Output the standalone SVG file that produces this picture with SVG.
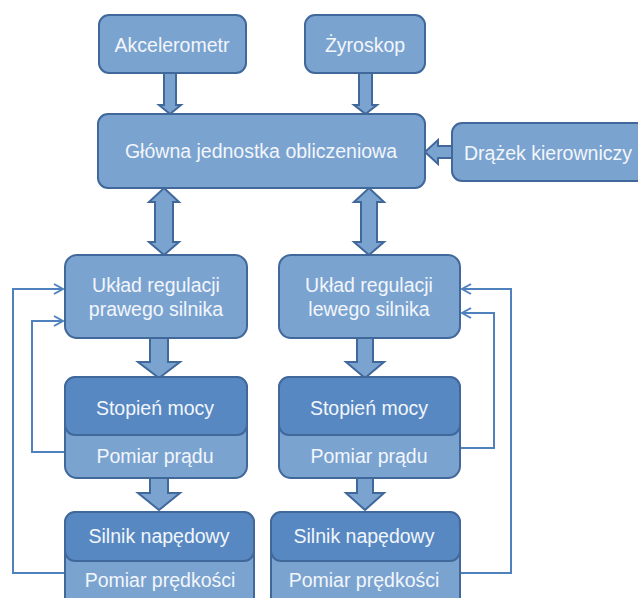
<svg xmlns="http://www.w3.org/2000/svg" width="638" height="598" viewBox="0 0 638 598">
<defs>
<style>
.box{fill:#7ba3d0;stroke:#41689a;stroke-width:2}
.dark{fill:#5788c2;stroke:#41689a;stroke-width:2}
.arr{fill:#7ba3d0;stroke:#41689a;stroke-width:2;stroke-linejoin:miter}
.fb{fill:none;stroke:#4f81bd;stroke-width:2}
text{font-family:"Liberation Sans",Arial,sans-serif;font-size:19.5px;fill:#f2f6fb;text-anchor:middle}
</style>
<marker id="open" markerWidth="12" markerHeight="12" refX="10" refY="6" orient="auto" markerUnits="userSpaceOnUse">
<polyline points="1,1 10,6 1,11" fill="none" stroke="#4f81bd" stroke-width="2"/>
</marker>
</defs>
<rect width="638" height="598" fill="#ffffff"/>
<g id="connectors">
<polygon class="arr" points="164,73 176,73 176,105 181,105 170,114 159,105 164,105"/>
<polygon class="arr" points="359,73 372,73 372,105 377,105 365.5,114 354,105 359,105"/>
<polygon class="arr" points="452,146 438,146 438,140 425,152 438,164 438,158 452,158"/>
<polygon class="arr" points="164,188 179,202 173,202 173,242 179,242 164,255 149,242 155,242 155,202 149,202"/>
<polygon class="arr" points="369,188 384,202 377,202 377,242 384,242 369,255 354,242 361,242 361,202 354,202"/>
<polygon class="arr" points="150,338 168,338 168,362 180,362 159,378 138,362 150,362"/>
<polygon class="arr" points="357,338 373,338 373,362 384,362 365,378 346,362 357,362"/>
<polygon class="arr" points="150,478 168,478 168,493 180,493 159,510 138,493 150,493"/>
<polygon class="arr" points="357,478 373,478 373,493 384,493 365,510 346,493 357,493"/>
<path class="fb" d="M65,573 H13 V289 H63" marker-end="url(#open)"/>
<path class="fb" d="M65,452 H32 V321 H63" marker-end="url(#open)"/>
<path class="fb" d="M460,573 H511 V289 H462" marker-end="url(#open)"/>
<path class="fb" d="M460,448 H494 V313 H462" marker-end="url(#open)"/>
</g>
<g id="akcelerometr">
<rect class="box" x="99" y="15" width="147" height="58" rx="10"/>
<text x="172" y="52">Akcelerometr</text>
</g>
<g id="zyroskop">
<rect class="box" x="305" y="15" width="120" height="58" rx="10"/>
<text x="365" y="52">Żyroskop</text>
</g>
<g id="glowna">
<rect class="box" x="98" y="114" width="327" height="74" rx="10"/>
<text x="261" y="158">Główna jednostka obliczeniowa</text>
</g>
<g id="drazek">
<rect class="box" x="452" y="123" width="200" height="58" rx="10"/>
<text x="548" y="160">Drążek kierowniczy</text>
</g>
<g id="uklad-prawy">
<rect class="box" x="65" y="255" width="182" height="83" rx="12"/>
<text x="156" y="292">Układ regulacji</text>
<text x="156" y="316">prawego silnika</text>
</g>
<g id="uklad-lewy">
<rect class="box" x="279" y="255" width="181" height="83" rx="12"/>
<text x="369" y="292">Układ regulacji</text>
<text x="369" y="316">lewego silnika</text>
</g>
<g id="stopien-lewy">
<rect class="box" x="65" y="377" width="182" height="101" rx="12"/>
<rect class="dark" x="65" y="377" width="182" height="58" rx="10"/>
<text x="155" y="415">Stopień mocy</text>
<text x="155" y="463">Pomiar prądu</text>
</g>
<g id="stopien-prawy">
<rect class="box" x="279" y="377" width="181" height="101" rx="12"/>
<rect class="dark" x="279" y="377" width="181" height="58" rx="10"/>
<text x="369" y="415">Stopień mocy</text>
<text x="369" y="463">Pomiar prądu</text>
</g>
<g id="silnik-lewy">
<rect class="box" x="65" y="512" width="189" height="100" rx="12"/>
<rect class="dark" x="65" y="512" width="189" height="49" rx="10"/>
<text x="159" y="543">Silnik napędowy</text>
<text x="160" y="587">Pomiar prędkości</text>
</g>
<g id="silnik-prawy">
<rect class="box" x="271" y="512" width="189" height="100" rx="12"/>
<rect class="dark" x="271" y="512" width="189" height="49" rx="10"/>
<text x="364" y="543">Silnik napędowy</text>
<text x="364" y="587">Pomiar prędkości</text>
</g>
</svg>
